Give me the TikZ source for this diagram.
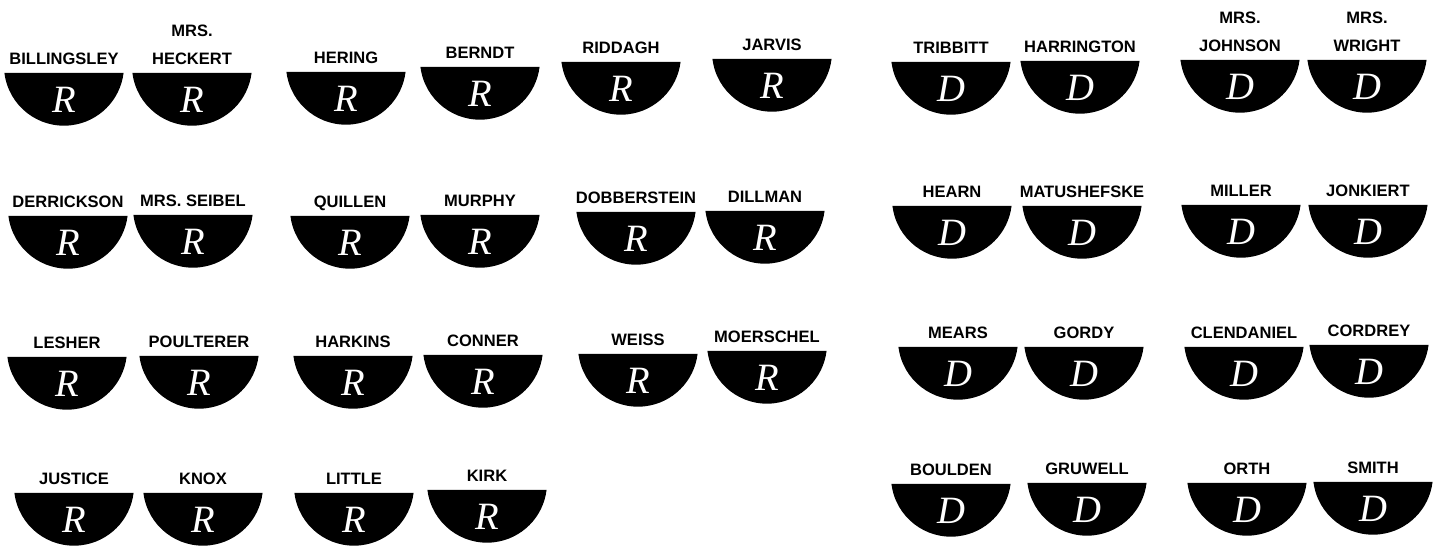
\documentclass[tikz,border=0pt]{standalone}
\usepackage{fontspec}
\newfontfamily\namefont{Liberation Sans}
\newfontfamily\partyfont{Liberation Serif}
\usetikzlibrary{positioning}

\definecolor{ink}{HTML}{000000}
\definecolor{paper}{HTML}{FFFFFF}

% one desk: flat top at the given point, party letter inside, name above
\newcommand{\seatat}[4]{%
  \coordinate (#1) at (#2);
  \fill[ink] ([xshift=-5.955mm]#1) arc[start angle=187,end angle=353,radius=6mm] -- cycle;
  \node[partyletter] (#1-p) at ([yshift=-2.7mm]#1) {#3};
  \node[namelabel,above=0.8mm of #1] (#1-n) {#4};
}

\begin{document}
\begin{tikzpicture}[
  x=1cm,
  y=1cm,
  namelabel/.style={font=\namefont\bfseries\fontsize{4.7}{5.5}\selectfont,
    text=ink,inner sep=0pt,text depth=0pt},
  partyletter/.style={font=\partyfont\itshape\fontsize{11}{12}\selectfont,
    text=paper,inner sep=0pt}
]
\useasboundingbox (0,0) rectangle (14.34,5.49);
\fill[paper] (0,0) rectangle (14.34,5.49);

% Republican side
\seatat{billingsley}{0.64,4.76}{R}{BILLINGSLEY}
\seatat{heckert}{1.92,4.76}{R}{HECKERT}
\node[namelabel,above=1.5mm of heckert-n] (heckert-mrs) {MRS.};
\seatat{hering}{3.46,4.77}{R}{HERING}
\seatat{berndt}{4.80,4.82}{R}{BERNDT}
\seatat{riddagh}{6.21,4.87}{R}{RIDDAGH}
\seatat{jarvis}{7.72,4.90}{R}{JARVIS}

\seatat{derrickson}{0.68,3.33}{R}{DERRICKSON}
\seatat{seibel}{1.93,3.34}{R}{MRS. SEIBEL}
\seatat{quillen}{3.50,3.33}{R}{QUILLEN}
\seatat{murphy}{4.80,3.34}{R}{MURPHY}
\seatat{dobberstein}{6.36,3.37}{R}{DOBBERSTEIN}
\seatat{dillman}{7.65,3.38}{R}{DILLMAN}

\seatat{lesher}{0.67,1.92}{R}{LESHER}
\seatat{poulterer}{1.99,1.93}{R}{POULTERER}
\seatat{harkins}{3.53,1.93}{R}{HARKINS}
\seatat{conner}{4.83,1.94}{R}{CONNER}
\seatat{weiss}{6.38,1.95}{R}{WEISS}
\seatat{moerschel}{7.67,1.98}{R}{MOERSCHEL}

\seatat{justice}{0.74,0.56}{R}{JUSTICE}
\seatat{knox}{2.03,0.56}{R}{KNOX}
\seatat{little}{3.54,0.56}{R}{LITTLE}
\seatat{kirk}{4.87,0.59}{R}{KIRK}

% Democratic side
\seatat{tribbitt}{9.51,4.87}{D}{TRIBBITT}
\seatat{harrington}{10.80,4.88}{D}{HARRINGTON}
\seatat{johnson}{12.40,4.89}{D}{JOHNSON}
\node[namelabel,above=1.5mm of johnson-n] (johnson-mrs) {MRS.};
\seatat{wright}{13.67,4.89}{D}{WRIGHT}
\node[namelabel,above=1.5mm of wright-n] (wright-mrs) {MRS.};

\seatat{hearn}{9.52,3.43}{D}{HEARN}
\seatat{matushefske}{10.82,3.43}{D}{MATUSHEFSKE}
\seatat{miller}{12.41,3.44}{D}{MILLER}
\seatat{jonkiert}{13.68,3.44}{D}{JONKIERT}

\seatat{mears}{9.58,2.02}{D}{MEARS}
\seatat{gordy}{10.84,2.02}{D}{GORDY}
\seatat{clendaniel}{12.44,2.02}{D}{CLENDANIEL}
\seatat{cordrey}{13.69,2.04}{D}{CORDREY}

\seatat{boulden}{9.51,0.65}{D}{BOULDEN}
\seatat{gruwell}{10.87,0.66}{D}{GRUWELL}
\seatat{orth}{12.47,0.66}{D}{ORTH}
\seatat{smith}{13.73,0.67}{D}{SMITH}
\end{tikzpicture}
\end{document}
